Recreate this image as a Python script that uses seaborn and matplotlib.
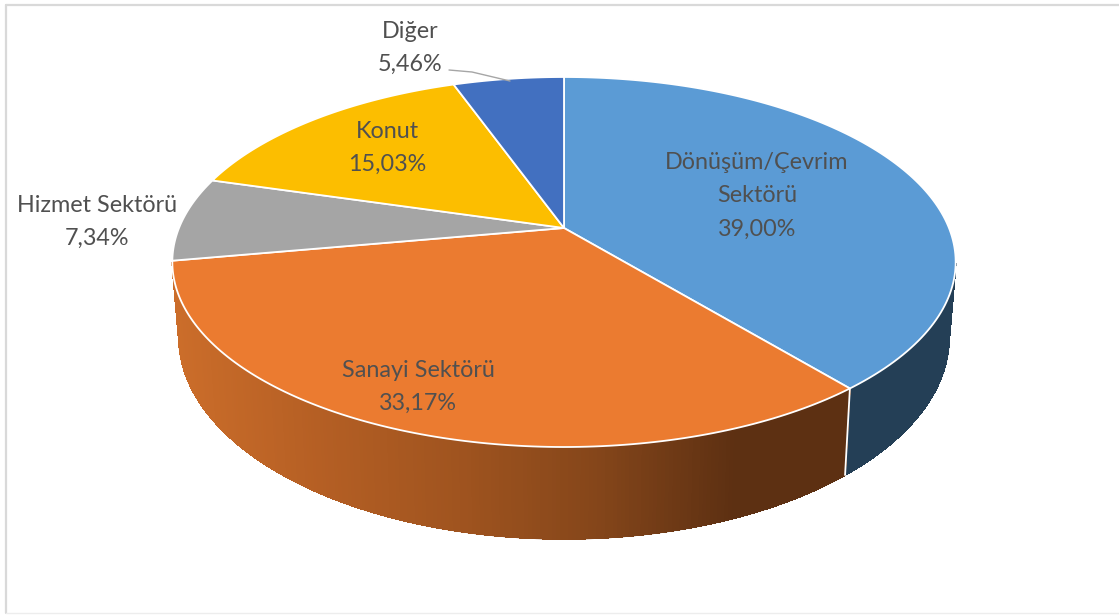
import numpy as np
import seaborn as sns
import matplotlib.pyplot as plt
from matplotlib.collections import LineCollection, PolyCollection
from matplotlib.colors import LinearSegmentedColormap
from matplotlib.path import Path
from matplotlib.transforms import Affine2D, Transform

# Slices, clockwise from the top
categories = ['Dönüşüm/Çevrim\nSektörü', 'Sanayi Sektörü', 'Hizmet Sektörü', 'Konut', 'Diğer']
shares = [39.00, 33.17, 7.34, 15.03, 5.46]
slice_colors = ['#5B9BD5', '#EB7B30', '#A5A5A5', '#FCBE00', '#4270C0']

# Label centres in picture pixels
label_pos = [(757, 196), (418, 387), (97, 222), (387, 148), (410, 48)]

sns.set_theme(style='white')
plt.rcParams['font.family'] = ['Lato', 'DejaVu Sans']

# Perspective of the 3D pie: unit circle -> picture pixels
TILT = 0.1838


class PieView(Transform):
    input_dims = 2
    output_dims = 2

    def __init__(self, cy, a, b):
        super().__init__()
        self.cy, self.a, self.b = cy, a, b

    def transform_non_affine(self, values):
        values = np.asarray(values, dtype=float)
        w = 1 + TILT * values[:, 1]
        return np.column_stack([564 + self.a * values[:, 0] / w,
                                self.cy - self.b * values[:, 1] / w])

    def transform_path_non_affine(self, path):
        # flatten curves first, a homography does not keep beziers
        big = path.transformed(Affine2D().scale(2000)).to_polygons(closed_only=True)[0] / 2000
        return Path(self.transform_non_affine(big), closed=True)


top = PieView(228, 385, 178.75)
bottom = PieView(300, 378.5, 195)

fig = plt.figure(figsize=(11.19, 6.15), dpi=100)
ax = fig.add_axes([0, 0, 1, 1])
wedges, _ = ax.pie(shares, colors=slice_colors, startangle=90, counterclock=False,
                   wedgeprops={'edgecolor': 'white', 'linewidth': 1.3})
ax.set_aspect('auto')
ax.set_xlim(0, 1119)
ax.set_ylim(615, 0)

for w in wedges:
    w.set_transform(top + ax.transData)

# Side wall of the two front slices
orange_side = LinearSegmentedColormap.from_list(
    'orange_side', ['#CB6D2A', '#B55F24', '#A0541F', '#85461A', '#5D3012'])
for idx, w in enumerate(wedges):
    t = np.radians(np.linspace(w.theta1, w.theta2, 240))
    t = t[np.sin(t) < -TILT]
    if len(t) < 2:
        continue
    rim = np.column_stack([np.cos(t), np.sin(t)])
    p_top = top.transform_non_affine(rim)
    p_bot = bottom.transform_non_affine(rim)
    quads = [[p_top[i], p_top[i + 1], p_bot[i + 1], p_bot[i]] for i in range(len(t) - 1)]
    if idx == 1:
        cols = orange_side(np.clip((p_top[:-1, 0] - 175) / 560, 0, 1))
    else:
        cols = ['#243F56'] * len(quads)
    # no antialiasing between strips, it makes moire bands
    ax.add_collection(PolyCollection(quads, facecolors=cols, edgecolors=cols,
                                     linewidths=0.6, antialiaseds=False, zorder=0.5))
    # smooth outer edge
    outer = [[p_bot[i], p_bot[i + 1]] for i in range(len(t) - 1)]
    if idx == 1:
        outer.append([p_top[-1], p_bot[-1]])
    else:
        outer.append([p_top[-1], p_bot[-1]] if p_top[-1][0] > 564 else [p_top[0], p_bot[0]])
    edge_cols = list(cols) + [cols[-1]]
    ax.add_collection(LineCollection(outer, colors=edge_cols, linewidths=1, zorder=0.6))
    if idx == 0:
        ax.plot([p_top[0][0], p_bot[0][0]], [p_top[0][1], p_bot[0][1]],
                color='white', lw=1.3, zorder=0.8)

# Labels
for name, val, (x, y) in zip(categories, shares, label_pos):
    txt = name + '\n' + f'{val:.2f}%'.replace('.', ',')
    ax.text(x, y, txt, ha='center', va='center', fontsize=16.8, color='#505050',
            linespacing=1.72, zorder=5)

# Leader line of the small slice
ax.plot([449, 472, 510], [70, 72, 81], color='#A6A6A6', lw=1, zorder=4)

# Chart frame
ax.plot([6, 6], [5, 613], color='#D9D9D9', lw=1.6, clip_on=False)
ax.plot([6, 1119], [5, 5], color='#D9D9D9', lw=1.6, clip_on=False)
ax.plot([6, 1119], [613, 613], color='#EDEDED', lw=1, clip_on=False)

fig.savefig('out.png', dpi=100)
